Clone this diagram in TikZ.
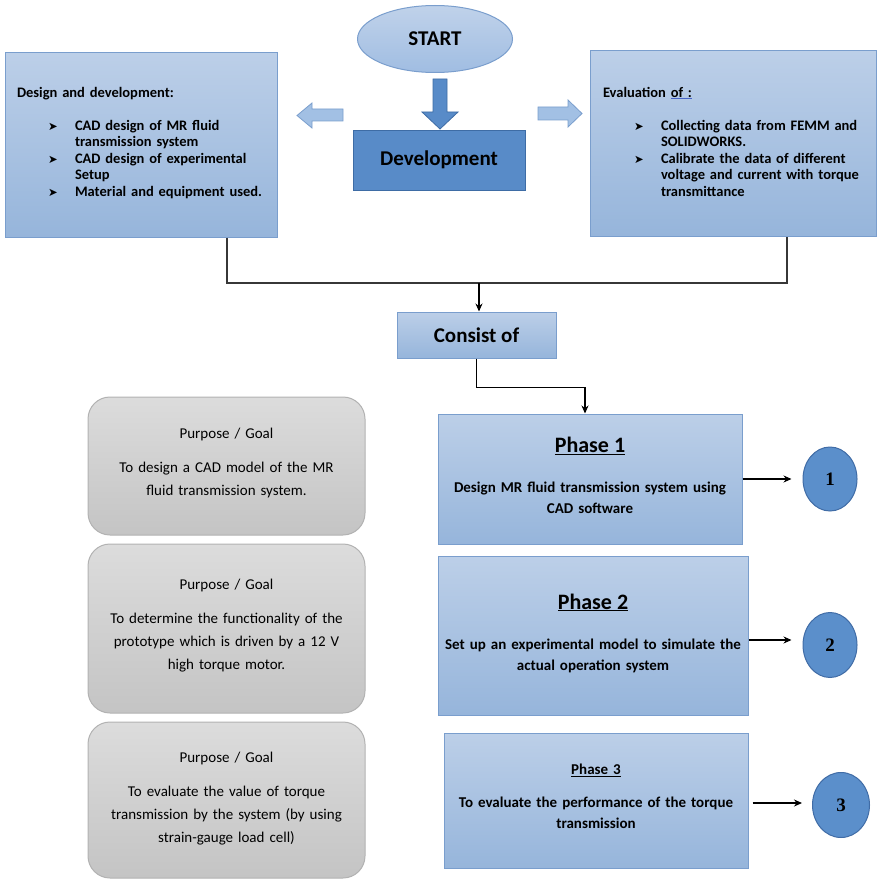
\documentclass[tikz,border=0pt]{standalone}
\usepackage{fontspec}
\setmainfont{Carlito}
\newfontfamily\numfont{Liberation Serif}
\newfontfamily\symfont{DejaVu Sans}
\usetikzlibrary{shapes.geometric,arrows.meta}

\definecolor{boxtop}{RGB}{188,207,232}
\definecolor{boxbot}{RGB}{150,181,219}
\definecolor{boxline}{RGB}{122,158,205}
\definecolor{devfill}{RGB}{88,139,200}
\definecolor{devline}{RGB}{62,108,165}
\definecolor{starttop}{RGB}{192,210,234}
\definecolor{startbot}{RGB}{160,189,226}
\definecolor{graytop}{RGB}{220,220,220}
\definecolor{graybot}{RGB}{196,196,196}
\definecolor{grayline}{RGB}{178,178,178}
\definecolor{numfill}{RGB}{91,143,203}
\definecolor{numline}{RGB}{64,108,166}
\definecolor{arrfill}{RGB}{162,192,228}
\definecolor{linegray}{RGB}{55,55,55}
\definecolor{ulblue}{RGB}{70,100,200}

% bullet rows of the two top boxes
\newcommand{\bul}{{\symfont\fontsize{11.5}{11.5}\selectfont ➤}}
\newcommand{\ditem}[1]{\hspace*{31pt}\makebox[27pt][l]{\bul}#1}
\newcommand{\dline}[1]{\hspace*{58pt}#1}

\begin{document}
\begin{tikzpicture}[x=1pt,y=-1pt]
\useasboundingbox (0,0) rectangle (876,880);

\tikzstyle{bluebox} = [rectangle,draw=boxline,line width=1pt,top color=boxtop,bottom color=boxbot,inner sep=0];
\tikzstyle{listbox} = [bluebox,text width=250pt,align=left,font=\bfseries\fontsize{14.5}{16.5}\selectfont];
\tikzstyle{phasebox} = [bluebox,text width=300pt,align=center,font=\bfseries\fontsize{15}{21}\selectfont];
\tikzstyle{graybox} = [rectangle,rounded corners=22pt,draw=grayline,line width=1pt,top color=graytop,bottom color=graybot,inner sep=0,minimum width=277pt,text width=260pt,align=center,font=\fontsize{15}{23}\selectfont];
\tikzstyle{num} = [ellipse,draw=numline,fill=numfill,line width=1pt,inner sep=0,font=\numfont\bfseries\fontsize{19}{19}\selectfont];
\tikzstyle{link} = [line width=1.5pt,draw=linegray];
\tikzstyle{tip} = [-{Stealth[length=8pt,width=7pt]},line width=1.3pt,draw=black];
\tikzstyle{blockarrow} = [draw=boxline,fill=arrfill,line width=0.8pt];

% top row
\node[ellipse,draw=boxline,line width=1pt,top color=starttop,bottom color=startbot,minimum width=155pt,minimum height=67pt,font=\bfseries\fontsize{21}{21}\selectfont] (start) at (435,39) {START};
\node[rectangle,draw=devline,line width=1pt,fill=devfill,minimum width=172pt,minimum height=60pt,font=\bfseries\fontsize{21}{21}\selectfont] (dev) at (439,160) {Development};

\node[listbox,minimum width=272pt,minimum height=184pt,text width=248pt] (design) at (141,145) {Design and development:\par\vspace{16.5pt}
\ditem{CAD design of MR fluid}\\
\dline{transmission system}\\
\ditem{CAD design of experimental}\\
\dline{Setup}\\
\ditem{Material and equipment used.}\par\kern4pt};

\node[listbox,minimum width=286pt,minimum height=185pt,text width=260pt] (eval) at (733,143.5) {Evaluation {\color{ulblue}\underline{\color{black}of :}}\par\vspace{16.5pt}
\ditem{Collecting data from FEMM and}\\
\dline{SOLIDWORKS.}\\
\ditem{Calibrate the data of different}\\
\dline{voltage and current with torque}\\
\dline{transmittance}\par\kern4pt};

% block arrows
\filldraw[draw=devline,fill=devfill,line width=0.8pt] (433,79) -- (447,79) -- (447,112) -- (458,112) -- (440,129) -- (422,112) -- (433,112) -- cycle;
\filldraw[blockarrow] (343,109) -- (312,109) -- (312,103) -- (297,115.5) -- (312,128) -- (312,121) -- (343,121) -- cycle;
\filldraw[blockarrow] (538,107) -- (568,107) -- (568,100) -- (582,113.5) -- (568,127) -- (568,120) -- (538,120) -- cycle;

\node[bluebox,minimum width=159pt,minimum height=46pt,font=\bfseries\fontsize{21}{21}\selectfont] (cons) at (476.5,335) {Consist of};

\coordinate (join) at (479,283);
\draw[link] ([xshift=86pt]design.south) |- (join) -| ([xshift=54pt]eval.south);
\draw[link,tip] (join) -- (join |- cons.north);

% phases
\node[phasebox,minimum width=304pt,minimum height=130pt] (p1) at (590,479) {{\fontsize{22}{22}\selectfont\underline{Phase 1}\par}\vspace{19pt}
Design MR fluid transmission system using\\CAD software\par\kern8pt};
\node[phasebox,minimum width=310pt,minimum height=159pt] (p2) at (593,635.5) {{\fontsize{22}{22}\selectfont\underline{Phase 2}\par}\vspace{19pt}
Set up an experimental model to simulate the\\actual operation system\par\kern5pt};
\node[phasebox,minimum width=304pt,minimum height=135pt] (p3) at (596,800.5) {{\fontsize{15}{15}\selectfont\underline{Phase 3}\par}\vspace{12pt}
To evaluate the performance of the torque\\transmission\par\kern8pt};

\draw[link,tip] (cons.south) -- ++(0,29) -| ([xshift=-5pt]p1.north);

\node[num,minimum width=54pt,minimum height=64pt] (n1) at (830,479) {1};
\node[num,minimum width=54pt,minimum height=65pt] (n2) at (830,645) {2};
\node[num,minimum width=57pt,minimum height=65pt] (n3) at (841,805) {3};

\draw[tip,shorten >=11pt] (p1.east) -- (n1.west);
\draw[tip,shorten >=11pt] ([yshift=-4.5pt]p2.east) -- ([yshift=-4.5pt]p2.east -| n2.west);
\draw[tip,shorten >=10pt] ([xshift=4pt,yshift=-2.5pt]p3.east) -- ([yshift=-2.5pt]p3.east -| n3.west);

% purpose boxes
\node[graybox,minimum height=138pt] (g1) at (226.5,466) {Purpose / Goal\par\vspace{11pt}
To design a CAD model of the MR\\fluid transmission system.\par\kern6pt};
\node[graybox,minimum height=169pt] (g2) at (226.5,628.5) {Purpose / Goal\par\vspace{11pt}
To determine the functionality of the\\prototype which is driven by a 12 V\\high torque motor.\par\kern6pt};
\node[graybox,minimum height=156pt] (g3) at (226.5,800) {Purpose / Goal\par\vspace{11pt}
To evaluate the value of torque\\transmission by the system (by using\\strain-gauge load cell)\par\kern2pt};

\end{tikzpicture}
\end{document}
